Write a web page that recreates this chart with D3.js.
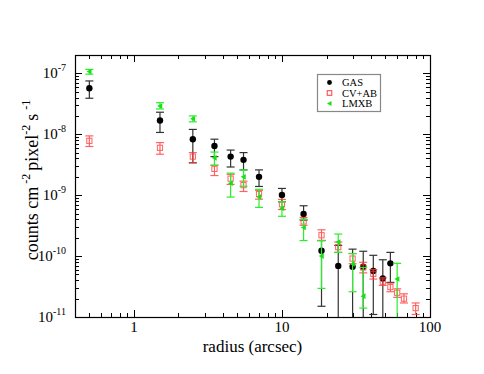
<!DOCTYPE html>
<html>
<head>
<meta charset="utf-8">
<script src="https://cdn.jsdelivr.net/npm/d3@7.9.0/dist/d3.min.js"></script>
<style>
  body { margin: 0; background: #fff; }
  text { font-family: "Liberation Serif", "DejaVu Serif", serif; }
</style>
</head>
<body>
<svg id="chart" width="484" height="374"></svg>
<script>
// radius bins (arcsec)
const gasR = [0.5, 1.5, 2.5, 3.5, 4.5, 5.5, 7, 10, 14, 18.5, 24, 30, 35.4, 41.4, 48, 54];
const gasY = [5.7e-8, 1.68e-8, 8.3e-9, 6.4e-9, 4.3e-9, 3.8e-9, 2.0e-9, 1.01e-9, 4.9e-10, 1.22e-10, 6.9e-11, 6.7e-11, 6.7e-11, 5.7e-11, 4.3e-11, 7.6e-11];
const gasLo = [3.9e-8, 1.07e-8, 3.4e-9, 4.3e-9, 2.9e-9, 2.6e-9, 1.39e-9, 7.8e-10, 3.9e-10, 1.5e-11, 5e-12, 5e-12, 5e-12, 1.1e-11, 5e-12, 3.7e-11];
const gasHi = [7.5e-8, 2.3e-8, 1.2e-8, 8.3e-9, 5.5e-9, 5.0e-9, 2.6e-9, 1.29e-9, 6.7e-10, 1.8e-10, 1.5e-10, 1.3e-10, 1.2e-10, 1.03e-10, 8.7e-11, 1.15e-10];

const cvR = [0.5, 1.5, 2.5, 3.5, 4.5, 5.5, 7, 10, 14, 18.5, 24, 30, 35.4, 41.4, 48, 54, 60, 66.7, 80];
const cvY = [7.8e-9, 6.0e-9, 4.3e-9, 2.7e-9, 1.87e-9, 1.46e-9, 1.04e-9, 7.1e-10, 3.7e-10, 2.2e-10, 1.4e-10, 9.1e-11, 6.5e-11, 5.1e-11, 3.8e-11, 3.1e-11, 2.5e-11, 2.0e-11, 1.4e-11];
const cvLo = [6.3e-9, 4.7e-9, 3.4e-9, 2.1e-9, 1.5e-9, 1.15e-9, 8.6e-10, 5.8e-10, 3.2e-10, 1.8e-10, 1.15e-10, 7.5e-11, 5.3e-11, 4.2e-11, 3.3e-11, 2.6e-11, 2.1e-11, 1.7e-11, 1.1e-11];
const cvHi = [9.4e-9, 7.3e-9, 5.0e-9, 3.1e-9, 2.2e-9, 1.7e-9, 1.2e-9, 8.5e-10, 4.3e-10, 2.7e-10, 1.7e-10, 1.1e-10, 7.9e-11, 6.0e-11, 4.4e-11, 3.6e-11, 2.9e-11, 2.4e-11, 1.7e-11];

const lmR = [0.5, 1.5, 2.5, 3.5, 4.5, 5.5, 7, 10, 14, 18.5, 24, 30, 35.4, 60];
const lmY = [1.07e-7, 2.9e-8, 1.8e-8, 4.1e-9, 1.57e-9, 2.0e-9, 9.4e-10, 6.1e-10, 2.95e-10, 1.0e-10, 1.7e-10, 7.4e-11, 2.2e-11, 4.2e-11];
const lmLo = [9.7e-8, 2.6e-8, 1.6e-8, 3.1e-9, 9.3e-10, 1.4e-9, 6.3e-10, 4.5e-10, 1.8e-10, 2.95e-11, 1.15e-10, 2.6e-11, 1.4e-11, 5e-12];
const lmHi = [1.16e-7, 3.3e-8, 2.0e-8, 5.1e-9, 2.3e-9, 2.6e-9, 1.25e-9, 7.8e-10, 4.0e-10, 1.8e-10, 2.3e-10, 1.1e-10, 6.5e-11, 7.6e-11];

const xTicks = [1, 10, 100];
const yTicks = [-11, -10, -9, -8, -7];
const legendNames = ["GAS", "CV+AB", "LMXB"];

const margin = { top: 55, right: 54, bottom: 57, left: 75 };
const width = 484 - margin.left - margin.right;
const height = 374 - margin.top - margin.bottom;

const svg = d3.select("#chart");
const g = svg.append("g").attr("transform", `translate(${margin.left},${margin.top})`);

const x = d3.scaleLog().domain([0.4, 100]).range([0, width]);
const y = d3.scaleLog().domain([1e-11, 2e-7]).range([height, 0]);

g.append("clipPath").attr("id", "clip")
  .append("rect").attr("width", width).attr("height", height);

// ---------- minor / major ticks (inward, all four sides) ----------
const xMinor = [];
for (let e = -1; e <= 1; e++) for (let m = 1; m <= 9; m++) {
  const v = m * Math.pow(10, e);
  if (v >= 0.4 && v <= 100) xMinor.push(v);
}
xMinor.push(100);
const yMinor = [];
for (let e = -11; e <= -7; e++) for (let m = 1; m <= 9; m++) {
  const v = m * Math.pow(10, e);
  if (v >= 1e-11 && v <= 2e-7) yMinor.push(v);
}
const isMajor = v => Math.abs(Math.log10(v) - Math.round(Math.log10(v))) < 1e-6;

const ticks = g.append("g").attr("stroke", "#000").attr("stroke-width", 1);
xMinor.forEach(v => {
  const len = isMajor(v) ? 7 : 4;
  const px = Math.round(x(v)) + 0.5;
  ticks.append("line").attr("x1", px).attr("x2", px).attr("y1", height).attr("y2", height - len);
  ticks.append("line").attr("x1", px).attr("x2", px).attr("y1", 0).attr("y2", len);
});
yMinor.forEach(v => {
  const len = isMajor(v) ? 7 : 4;
  const py = Math.round(y(v)) + 0.5;
  ticks.append("line").attr("x1", 0).attr("x2", len).attr("y1", py).attr("y2", py);
  ticks.append("line").attr("x1", width).attr("x2", width - len).attr("y1", py).attr("y2", py);
});

// frame
g.append("rect").attr("x", 0.5).attr("y", 0.5).attr("width", width).attr("height", height)
  .attr("fill", "none").attr("stroke", "#000").attr("stroke-width", 1.2);

// tick labels
g.selectAll(".xl").data(xTicks).join("text")
  .attr("x", d => x(d)).attr("y", height + 15)
  .attr("text-anchor", "middle").attr("font-size", 15).text(d => d);

const yl = g.selectAll(".yl").data(yTicks).join("text")
  .attr("x", -9).attr("y", d => y(Math.pow(10, d)) + 5)
  .attr("text-anchor", "end").attr("font-size", 15);
yl.append("tspan").text("10");
yl.append("tspan").attr("dy", -7).attr("font-size", 10).text(d => d);

// axis titles
g.append("text").attr("x", width / 2).attr("y", height + 35)
  .attr("text-anchor", "middle").attr("font-size", 17).text("radius (arcsec)");

const yt = g.append("text")
  .attr("transform", `translate(-37,${height / 2 - 6}) rotate(-90)`)
  .attr("text-anchor", "middle").attr("font-size", 18);
yt.append("tspan").text("counts cm");
yt.append("tspan").attr("dy", -8).attr("dx", 3).attr("font-size", 12).text("-2");
yt.append("tspan").attr("dy", 8).attr("dx", 3).text("pixel");
yt.append("tspan").attr("dy", -8).attr("font-size", 12).text("-2");
yt.append("tspan").attr("dy", 8).attr("dx", 4).text("s");
yt.append("tspan").attr("dy", -8).attr("dx", 4).attr("font-size", 12).text("-1");

// ---------- data ----------
const series = [
  { name: "GAS", r: gasR, v: gasY, lo: gasLo, hi: gasHi, color: "#000", bar: "#333" },
  { name: "CV+AB", r: cvR, v: cvY, lo: cvLo, hi: cvHi, color: "#ff3b3b", bar: "#ff3b3b" },
  { name: "LMXB", r: lmR, v: lmY, lo: lmLo, hi: lmHi, color: "#16e016", bar: "#2aee2a" }
];

const plot = g.append("g").attr("clip-path", "url(#clip)");
const cap = 4;

const triPath = (cx, cy, s) => `M${cx - s},${cy}L${cx + s * 0.8},${cy - s}L${cx + s * 0.8},${cy + s}Z`;

series.forEach(s => {
  const pts = s.r.map((r, i) => ({ r, v: s.v[i], lo: s.lo[i], hi: s.hi[i] }));
  const sg = plot.append("g").attr("opacity", s.name === "CV+AB" ? 0.8 : 1);
  const eb = sg.append("g").attr("stroke", s.bar).attr("stroke-width", 1.2);
  pts.forEach(d => {
    const cx = x(d.r);
    eb.append("line").attr("x1", cx).attr("x2", cx).attr("y1", y(d.lo)).attr("y2", y(d.hi));
    eb.append("line").attr("x1", cx - cap).attr("x2", cx + cap).attr("y1", y(d.lo)).attr("y2", y(d.lo));
    eb.append("line").attr("x1", cx - cap).attr("x2", cx + cap).attr("y1", y(d.hi)).attr("y2", y(d.hi));
  });
  if (s.name === "GAS") {
    sg.selectAll("circle").data(pts).join("circle")
      .attr("cx", d => x(d.r)).attr("cy", d => y(d.v)).attr("r", 3.2).attr("fill", s.color);
  } else if (s.name === "CV+AB") {
    sg.selectAll("rect").data(pts).join("rect")
      .attr("x", d => x(d.r) - 2.6).attr("y", d => y(d.v) - 2.6)
      .attr("width", 5.2).attr("height", 5.2)
      .attr("fill", "none").attr("stroke", s.color).attr("stroke-width", 1);
  } else {
    sg.selectAll("path").data(pts).join("path")
      .attr("d", d => triPath(x(d.r), y(d.v), 2.8)).attr("fill", s.color);
  }
});

// ---------- legend ----------
const lg = svg.append("g").attr("transform", "translate(317,74)");
lg.append("rect").attr("x", 0.5).attr("y", 0.5).attr("width", 63).attr("height", 37)
  .attr("fill", "#fff").attr("stroke", "#888").attr("stroke-width", 1.2);
legendNames.forEach((name, i) => {
  const s = series[i];
  const ly = 8.5 + i * 10.5;
  const lx = 12.5;
  if (i === 0) lg.append("circle").attr("cx", lx).attr("cy", ly).attr("r", 2.4).attr("fill", s.color);
  else if (i === 1) lg.append("rect").attr("x", lx - 2.3).attr("y", ly - 2.3).attr("width", 4.6).attr("height", 4.6)
    .attr("fill", "none").attr("stroke", s.color);
  else lg.append("path").attr("d", triPath(lx, ly, 2.5)).attr("fill", s.color);
  lg.append("text").attr("x", 25).attr("y", ly + 3.5).attr("font-size", 10.5).text(name);
});
</script>
</body>
</html>
